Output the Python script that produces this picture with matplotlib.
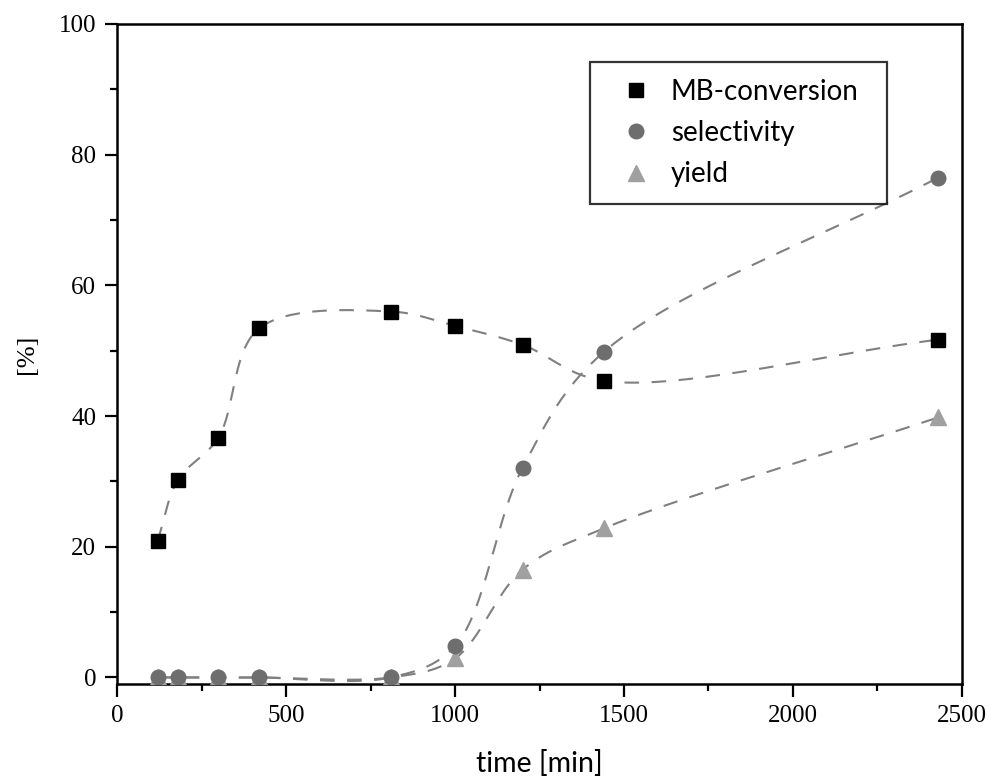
import numpy as np
import matplotlib
matplotlib.use("Agg")
import matplotlib.pyplot as plt
from matplotlib.ticker import MultipleLocator

# ---- data ----
time_min = [120, 180, 300, 420, 810, 1000, 1200, 1440, 2430]
mb_conversion = [20.9, 30.2, 36.7, 53.4, 56.0, 53.8, 50.9, 45.4, 51.7]
selectivity = [0.0, 0.0, 0.0, 0.0, 0.0, 4.8, 32.1, 49.8, 76.5]
yield_ = [0.0, 0.0, 0.0, 0.0, 0.0, 2.9, 16.5, 22.8, 39.8]

series_labels = ["MB-conversion", "selectivity", "yield"]
x_ticks = [0, 500, 1000, 1500, 2000, 2500]
y_ticks = [0, 20, 40, 60, 80, 100]

XLIM = (0, 2500)
YLIM = (-1, 100)


def catmull_rom(xs, ys, sx, sy, n=60, alpha=0.5):
    """Centripetal Catmull-Rom spline through the data, in screen-scaled units."""
    P = np.column_stack([np.asarray(xs, float) * sx, np.asarray(ys, float) * sy])
    P = np.vstack([2 * P[0] - P[1], P, 2 * P[-1] - P[-2]])
    out = []
    for i in range(1, len(P) - 2):
        p0, p1, p2, p3 = P[i - 1], P[i], P[i + 1], P[i + 2]
        t0 = 0.0
        t1 = t0 + np.linalg.norm(p1 - p0) ** alpha
        t2 = t1 + np.linalg.norm(p2 - p1) ** alpha
        t3 = t2 + np.linalg.norm(p3 - p2) ** alpha
        t = np.linspace(t1, t2, n)[:, None]
        a1 = (t1 - t) / (t1 - t0) * p0 + (t - t0) / (t1 - t0) * p1
        a2 = (t2 - t) / (t2 - t1) * p1 + (t - t1) / (t2 - t1) * p2
        a3 = (t3 - t) / (t3 - t2) * p2 + (t - t2) / (t3 - t2) * p3
        b1 = (t2 - t) / (t2 - t0) * a1 + (t - t0) / (t2 - t0) * a2
        b2 = (t3 - t) / (t3 - t1) * a2 + (t - t1) / (t3 - t1) * a3
        c = (t2 - t) / (t2 - t1) * b1 + (t - t1) / (t2 - t1) * b2
        out.append(c)
    C = np.vstack(out)
    return C[:, 0] / sx, C[:, 1] / sy


fig = plt.figure(figsize=(9.9, 7.84), dpi=100)
ax = fig.add_axes([0.1182, 0.1276, 0.8535, 0.8418])

sx = 845 / 2500.0
sy = 660 / 101.0

line_kw = dict(color="#808080", lw=1.5, linestyle=(0, (7, 6)), zorder=2)
for ys in (mb_conversion, selectivity, yield_):
    cx, cy = catmull_rom(time_min, ys, sx, sy)
    ax.plot(cx, cy, **line_kw)

ax.plot(time_min, yield_, "^", color="#a0a0a0", ms=11, mec="#a0a0a0",
        zorder=3, label=series_labels[2])
ax.plot(time_min, selectivity, "o", color="#6e6e6e", ms=10.5, mec="#6e6e6e",
        zorder=4, label=series_labels[1])
ax.plot(time_min, mb_conversion, "s", color="black", ms=9.5,
        zorder=5, label=series_labels[0])

ax.set_xlim(*XLIM)
ax.set_ylim(*YLIM)
ax.set_xticks(x_ticks)
ax.set_yticks(y_ticks)
ax.xaxis.set_minor_locator(MultipleLocator(250))
ax.yaxis.set_minor_locator(MultipleLocator(10))
ax.tick_params(which="major", direction="out", length=9, width=1.6,
               top=False, right=False, pad=6)
ax.tick_params(which="minor", direction="out", length=5, width=1.6,
               top=False, right=False)
for s in ax.spines.values():
    s.set_linewidth(1.8)

for lab in ax.get_xticklabels() + ax.get_yticklabels():
    lab.set_fontfamily("Liberation Serif")
    lab.set_fontsize(18)

ax.set_xlabel("time [min]", fontfamily="Lato", fontsize=20.5)
ax.xaxis.set_label_coords(0.5, -0.1)
ax.set_ylabel("[%]", fontfamily="Liberation Serif", fontsize=19)
ax.yaxis.set_label_coords(-0.094, 0.5)

handles, labels = ax.get_legend_handles_labels()
order = [2, 1, 0]
leg = ax.legend([handles[i] for i in order], [labels[i] for i in order],
                loc="upper left", bbox_to_anchor=(0.56, 0.736, 0.351, 0.206),
                mode="expand",
                prop={"family": "Lato", "size": 20}, frameon=True,
                fancybox=False, edgecolor="black", borderpad=0.6,
                handlelength=2.1, handletextpad=0.2, labelspacing=0.55,
                borderaxespad=0)
leg.get_frame().set_linewidth(1.6)

fig.savefig("out.png", dpi=100)
